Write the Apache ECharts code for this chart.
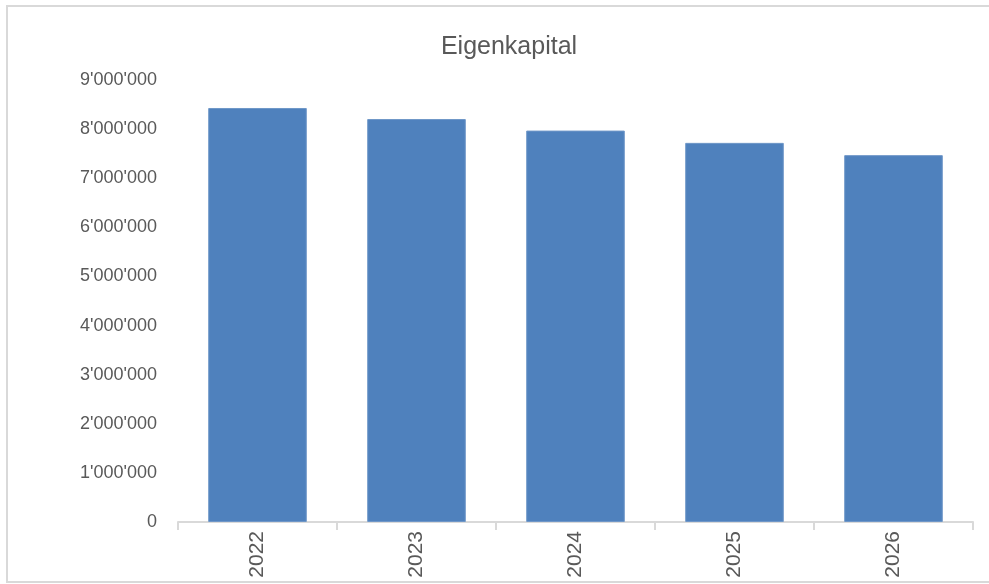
<!DOCTYPE html>
<html>
<head>
<meta charset="utf-8">
<script src="https://cdn.jsdelivr.net/npm/echarts@6/dist/echarts.min.js"></script>
<style>html,body{margin:0;padding:0;background:#fff;}#c{width:989px;height:584px;}</style>
</head>
<body>
<div id="c"></div>
<script>
const categories = ['2022', '2023', '2024', '2025', '2026'];
const eigenkapital = [8430000, 8205000, 7970000, 7720000, 7470000];
const chartTitle = 'Eigenkapital';

function fmt(v) {
  return String(Math.round(v)).replace(/\B(?=(\d{3})+(?!\d))/g, "'");
}

const chart = echarts.init(document.getElementById('c'));
chart.setOption({
  animation: false,
  backgroundColor: '#ffffff',
  textStyle: { fontFamily: 'Liberation Sans, Arial, sans-serif' },
  title: {
    text: chartTitle,
    left: 504, top: 30, textAlign: 'center',
    textStyle: { fontSize: 25, fontWeight: 'normal', color: '#595959', fontFamily: 'Liberation Sans, Arial, sans-serif' }
  },
  graphic: [{
    type: 'rect', silent: true,
    shape: { x: 7, y: 6, width: 1000, height: 576 },
    style: { fill: 'none', stroke: '#d9d9d9', lineWidth: 2 }
  }],
  grid: { left: 178, right: 16, top: 80, bottom: 62, containLabel: false },
  xAxis: {
    type: 'category',
    data: categories,
    axisLine: { lineStyle: { color: '#d9d9d9', width: 2 } },
    axisTick: { show: true, alignWithLabel: false, length: 8, lineStyle: { color: '#d9d9d9', width: 2 } },
    axisLabel: { rotate: 90, color: '#595959', fontSize: 21, margin: 9, fontFamily: 'Liberation Sans, Arial, sans-serif' }
  },
  yAxis: {
    type: 'value',
    min: 0, max: 9000000, interval: 1000000,
    axisLine: { show: false },
    axisTick: { show: false },
    splitLine: { show: false },
    axisLabel: { color: '#595959', fontSize: 18, margin: 21, formatter: fmt, fontFamily: 'Liberation Sans, Arial, sans-serif' }
  },
  series: [{
    type: 'bar',
    data: eigenkapital,
    barCategoryGap: '38%',
    itemStyle: { color: '#4f81bd', borderColor: '#6f97c8', borderWidth: 1 }
  }]
});
</script>
</body>
</html>
